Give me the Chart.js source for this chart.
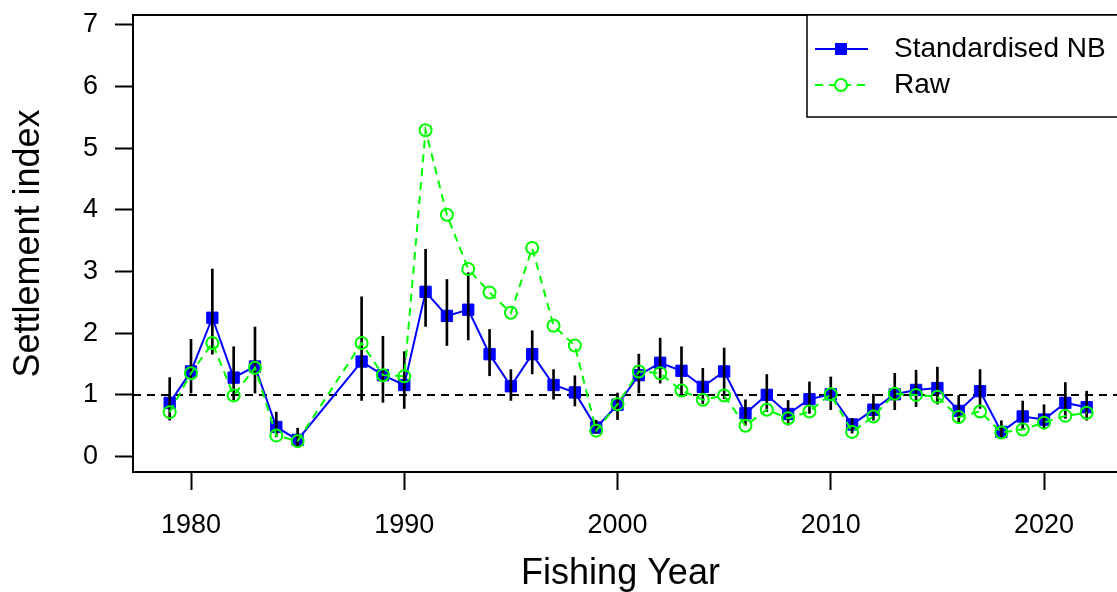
<!DOCTYPE html>
<html>
<head>
<meta charset="utf-8">
<title>Settlement index</title>
<script src="https://cdn.jsdelivr.net/npm/chart.js@4.4.0/dist/chart.umd.min.js"></script>
<style>
  html, body { margin: 0; padding: 0; background: #fff; }
  #wrap { width: 1117px; height: 592px; }
</style>
</head>
<body>
<div id="wrap"><canvas id="settlementChart" width="1117" height="592"></canvas></div>
<script>
// Fishing years with a settlement estimate (no survey in 1986-87)
const years = [1979, 1980, 1981, 1982, 1983, 1984, 1985,
    1988, 1989, 1990, 1991, 1992, 1993, 1994, 1995, 1996, 1997, 1998, 1999,
    2000, 2001, 2002, 2003, 2004, 2005, 2006, 2007, 2008, 2009,
    2010, 2011, 2012, 2013, 2014, 2015, 2016, 2017, 2018, 2019,
    2020, 2021, 2022];

const standardised = [0.87, 1.38, 2.25, 1.28, 1.46, 0.48, 0.27,
    1.54, 1.32, 1.16, 2.67, 2.28, 2.38, 1.66, 1.14, 1.66, 1.16, 1.04, 0.47,
    0.84, 1.32, 1.52, 1.39, 1.13, 1.38, 0.70, 1.00, 0.69, 0.93,
    1.01, 0.52, 0.76, 1.01, 1.08, 1.11, 0.74, 1.06, 0.40, 0.65,
    0.60, 0.87, 0.80];

const lowerCI = [0.59, 1.03, 1.66, 0.92, 1.03, 0.32, 0.16,
    0.91, 0.88, 0.78, 2.11, 1.80, 1.89, 1.31, 0.91, 1.34, 0.93, 0.82, 0.38,
    0.60, 1.03, 1.19, 1.01, 0.86, 0.94, 0.51, 0.73, 0.51, 0.70,
    0.76, 0.38, 0.59, 0.76, 0.81, 0.85, 0.54, 0.78, 0.30, 0.44,
    0.46, 0.62, 0.59];

const upperCI = [1.28, 1.90, 3.04, 1.78, 2.10, 0.72, 0.46,
    2.59, 1.95, 1.70, 3.36, 2.87, 2.98, 2.06, 1.41, 2.04, 1.41, 1.31, 0.59,
    1.03, 1.66, 1.92, 1.78, 1.43, 1.76, 0.92, 1.33, 0.91, 1.21,
    1.29, 0.62, 1.01, 1.35, 1.40, 1.45, 0.99, 1.41, 0.58, 0.90,
    0.84, 1.20, 1.06];

const rawIndex = [0.72, 1.35, 1.84, 0.99, 1.44, 0.34, 0.25,
    1.84, 1.32, 1.30, 5.29, 3.92, 3.04, 2.66, 2.33, 3.38, 2.12, 1.80, 0.42,
    0.85, 1.38, 1.35, 1.07, 0.92, 0.99, 0.50, 0.76, 0.62, 0.73,
    1.01, 0.40, 0.65, 1.02, 1.00, 0.97, 0.64, 0.73, 0.39, 0.44,
    0.55, 0.66, 0.71];

const xTickYears = [1980, 1990, 2000, 2010, 2020];
const yTickValues = [0, 1, 2, 3, 4, 5, 6, 7];
const referenceLevel = 1;

const FONT = '"Liberation Sans", Arial, sans-serif';
const BLUE = '#0000ff';
const GREEN = '#00ff00';

// Dashed horizontal line at the long-term mean, plus the box round the plot
const framePlugin = {
    id: 'frame',
    beforeDatasetsDraw(chart) {
        const {ctx, chartArea, scales, width} = chart;
        const y = scales.y.getPixelForValue(referenceLevel);
        ctx.save();
        ctx.strokeStyle = '#000';
        ctx.lineWidth = 2;
        ctx.setLineDash([8, 6]);
        ctx.beginPath();
        ctx.moveTo(chartArea.left, y);
        ctx.lineTo(width, y);
        ctx.stroke();
        ctx.restore();
    },
    afterDraw(chart) {
        const {ctx, chartArea, width} = chart;
        ctx.save();
        ctx.strokeStyle = '#000';
        ctx.lineWidth = 2;
        ctx.beginPath();
        ctx.moveTo(width + 5, chartArea.top);
        ctx.lineTo(chartArea.left, chartArea.top);
        ctx.lineTo(chartArea.left, chartArea.bottom);
        ctx.lineTo(width + 5, chartArea.bottom);
        ctx.stroke();
        ctx.restore();
    }
};

// Legend box in the top right corner, R style
const legendPlugin = {
    id: 'cornerLegend',
    afterDraw(chart) {
        const {ctx, chartArea, width} = chart;
        const boxLeft = 807, boxTop = chartArea.top, boxBottom = 117;
        ctx.save();
        ctx.fillStyle = '#fff';
        ctx.fillRect(boxLeft, boxTop, width - boxLeft + 5, boxBottom - boxTop);
        ctx.strokeStyle = '#000';
        ctx.lineWidth = 1.5;
        ctx.strokeRect(boxLeft, boxTop, width - boxLeft + 5, boxBottom - boxTop);

        const x0 = 815, x1 = 868, xm = 841;
        // Standardised NB
        ctx.strokeStyle = BLUE;
        ctx.lineWidth = 2;
        ctx.beginPath();
        ctx.moveTo(x0, 49);
        ctx.lineTo(x1, 49);
        ctx.stroke();
        ctx.fillStyle = BLUE;
        ctx.fillRect(xm - 6, 49 - 6, 12, 12);
        // Raw
        ctx.strokeStyle = GREEN;
        ctx.setLineDash([8, 6]);
        ctx.beginPath();
        ctx.moveTo(x0, 85);
        ctx.lineTo(x1, 85);
        ctx.stroke();
        ctx.setLineDash([]);
        ctx.fillStyle = '#fff';
        ctx.beginPath();
        ctx.arc(xm, 85, 6, 0, Math.PI * 2);
        ctx.fill();
        ctx.stroke();

        ctx.fillStyle = '#000';
        ctx.font = '28px ' + FONT;
        ctx.textAlign = 'left';
        ctx.textBaseline = 'middle';
        ctx.fillText('Standardised NB', 894, 49);
        ctx.fillText('Raw', 894, 85);
        ctx.restore();
    }
};

const ctx = document.getElementById('settlementChart').getContext('2d');
const chart = new Chart(ctx, {
    type: 'line',
    data: {
        datasets: [
            {
                label: 'Raw',
                data: years.map((yr, i) => ({x: yr, y: rawIndex[i]})),
                borderColor: GREEN,
                borderWidth: 2,
                borderDash: [8, 6],
                pointStyle: 'circle',
                pointRadius: 6,
                pointBorderWidth: 2,
                pointBorderColor: GREEN,
                pointBackgroundColor: 'rgba(0,0,0,0)',
                tension: 0,
                fill: false,
                order: 0
            },
            {
                type: 'bar',
                label: 'CI',
                data: years.map((yr, i) => ({x: yr, y: [lowerCI[i], upperCI[i]]})),
                backgroundColor: '#000',
                borderWidth: 0,
                barThickness: 2,
                order: 1
            },
            {
                label: 'Standardised NB',
                data: years.map((yr, i) => ({x: yr, y: standardised[i]})),
                borderColor: BLUE,
                borderWidth: 2,
                pointStyle: 'rect',
                pointRadius: 8,
                pointBorderWidth: 1,
                pointBorderColor: BLUE,
                pointBackgroundColor: BLUE,
                tension: 0,
                fill: false,
                order: 2
            }
        ]
    },
    options: {
        responsive: false,
        animation: false,
        layout: { padding: { top: 15, right: 0, bottom: 0, left: 0 } },
        plugins: {
            legend: { display: false },
            tooltip: { enabled: false }
        },
        scales: {
            x: {
                type: 'linear',
                min: 1977.28,
                max: 2023.0,
                offset: false,
                border: { display: false },
                grid: {
                    offset: false,
                    drawOnChartArea: false,
                    drawTicks: true,
                    tickLength: 18,
                    tickWidth: 2,
                    tickColor: '#000'
                },
                ticks: {
                    stepSize: 10,
                    includeBounds: false,
                    autoSkip: false,
                    maxRotation: 0,
                    padding: 19,
                    color: '#000',
                    font: { family: FONT, size: 27 },
                    callback: v => xTickYears.includes(v) ? String(v) : ''
                },
                title: {
                    display: true,
                    text: 'Fishing Year',
                    color: '#000',
                    font: { family: FONT, size: 36, lineHeight: 1 },
                    padding: 0
                },
                afterFit(scale) {
                    scale.height = 120;
                    scale.paddingLeft = 0;
                    scale.paddingRight = 0;
                }
            },
            y: {
                type: 'linear',
                min: -0.25,
                max: 7.157,
                border: { display: false },
                grid: {
                    drawOnChartArea: false,
                    drawTicks: true,
                    tickLength: 18,
                    tickWidth: 2,
                    tickColor: '#000'
                },
                ticks: {
                    stepSize: 1,
                    includeBounds: false,
                    padding: 17,
                    color: '#000',
                    font: { family: FONT, size: 27 },
                    callback: v => yTickValues.includes(v) ? String(v) : ''
                },
                title: {
                    display: true,
                    text: 'Settlement index',
                    color: '#000',
                    font: { family: FONT, size: 36, lineHeight: 1 },
                    padding: { top: 11, bottom: 0 }
                },
                afterFit(scale) {
                    scale.width = 133;
                    scale.paddingTop = 0;
                    scale.paddingBottom = 0;
                }
            }
        }
    },
    plugins: [framePlugin, legendPlugin]
});
</script>
</body>
</html>
